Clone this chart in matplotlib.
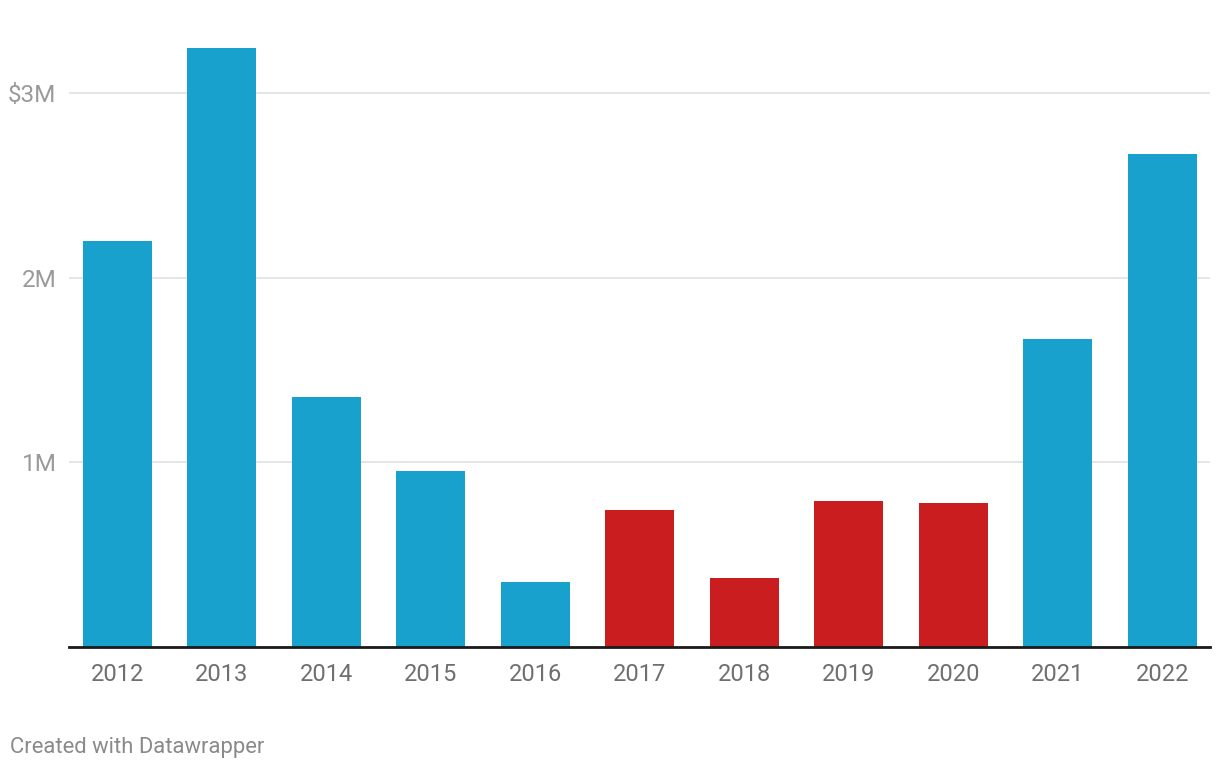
import matplotlib
matplotlib.use("Agg")
import matplotlib.pyplot as plt
from matplotlib.ticker import FixedLocator

years = ["2012", "2013", "2014", "2015", "2016", "2017", "2018", "2019", "2020", "2021", "2022"]
values_m = [2.20, 3.247, 1.355, 0.954, 0.352, 0.743, 0.374, 0.791, 0.780, 1.669, 2.672]
highlight = [False, False, False, False, False, True, True, True, True, False, False]
y_ticks = [1, 2, 3]
y_tick_labels = ["1M", "2M", "$3M"]

BLUE = "#18a1cd"
RED = "#c91d1f"

plt.rcParams['font.family'] = ['Roboto', 'DejaVu Sans']

fig = plt.figure(figsize=(12.2, 7.7), dpi=100)
ax = fig.add_axes([69 / 1220, 123 / 770, (1210 - 69) / 1220, (647 - 30) / 770])

x = list(range(len(years)))
colors = [RED if h else BLUE for h in highlight]
ax.bar(x, values_m, width=0.66, color=colors, zorder=2)

ax.set_xlim(-0.464, len(years) - 1 + 0.455)
ax.set_ylim(0, 3.344)

ax.yaxis.set_major_locator(FixedLocator(y_ticks))
ax.set_yticklabels(y_tick_labels)
ax.grid(axis='y', color='#e3e3e3', linewidth=1.3, zorder=0)
ax.tick_params(axis='y', length=0, pad=9, labelsize=17.5, labelcolor='#9a9a9a')

ax.set_xticks(x)
ax.set_xticklabels(years)
ax.tick_params(axis='x', length=0, pad=11.5, labelsize=17, labelcolor='#6f6f6f')

for s in ['top', 'right', 'left']:
    ax.spines[s].set_visible(False)
ax.spines['bottom'].set_color('#1a1a1a')
ax.spines['bottom'].set_linewidth(2)
ax.spines['bottom'].set_zorder(3)

fig.text(10 / 1220, 1 - 747 / 770, "Created with Datawrapper", fontsize=15.8,
         color='#8a8a8a', ha='left', va='center')

fig.savefig("out.png", dpi=100)
